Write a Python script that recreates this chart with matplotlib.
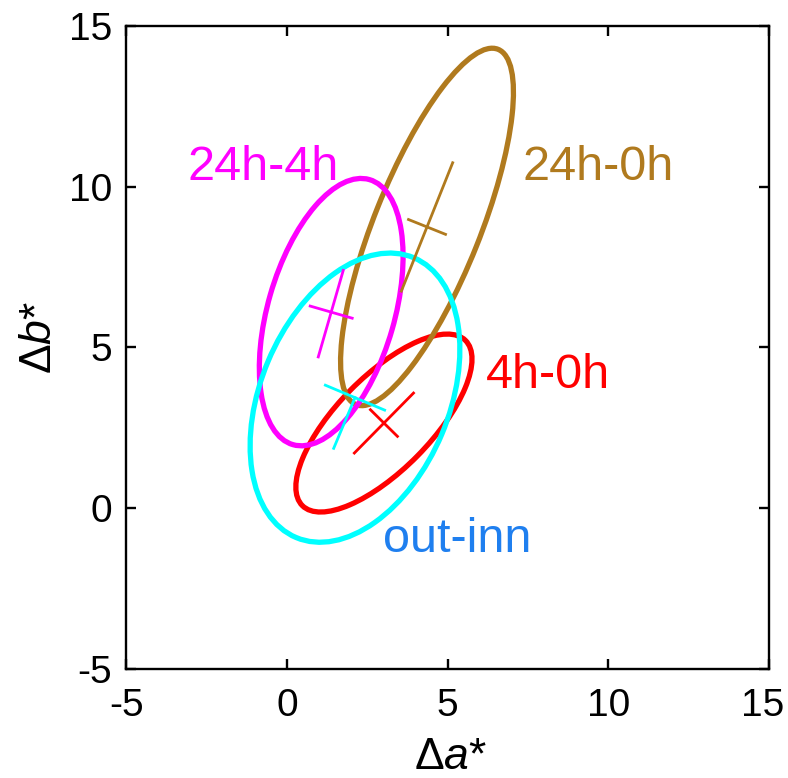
import numpy as np
import matplotlib
matplotlib.use('Agg')
import matplotlib.pyplot as plt
import matplotlib.transforms as mtransforms
from matplotlib.patches import Ellipse

plt.rcParams['font.family'] = ['Liberation Sans', 'DejaVu Sans']
plt.rcParams['mathtext.fontset'] = 'custom'
plt.rcParams['mathtext.rm'] = 'Liberation Sans'
plt.rcParams['mathtext.it'] = 'Liberation Sans:italic'
plt.rcParams['axes.unicode_minus'] = False

# groups, drawn in this order
names = ['4h-0h', '24h-0h', '24h-4h', 'out-inn']
colors = ['#ff0000', '#b07a1e', '#ff00ff', '#00ffff']
text_colors = ['#ff0000', '#b07a1e', '#ff00ff', '#1f7fef']

# ellipse centre (da, db), semi-axes and tilt (deg)
center_a = [3.02, 4.36, 1.38, 2.12]
center_b = [2.65, 8.75, 6.10, 3.44]
semi_major = [3.61, 5.95, 4.29, 4.72]
semi_minor = [1.46, 1.65, 1.97, 2.93]
tilt = [45.4, 68.2, 73.9, 67.2]

# cross arms (major axis down/up, minor axis left/right)
major_lo = [1.31, 2.15, 1.45, 1.71]
major_hi = [1.31, 2.15, 1.35, 0.0]
minor_lo = [0.59, 0.62, 0.68, 1.0]
minor_hi = [0.59, 0.62, 0.68, 1.0]

# label anchors (left, baseline)
label_a = [6.20, 7.32, -3.10, 2.99]
label_b = [3.74, 10.21, 10.21, -1.36]

fig = plt.figure(figsize=(7.88, 7.78), dpi=100)
ax = fig.add_axes([0.160, 0.1401, 0.816, 0.8265])

for i in range(len(names)):
    ell = Ellipse((center_a[i], center_b[i]), 2 * semi_major[i], 2 * semi_minor[i],
                  angle=tilt[i], fill=False, edgecolor=colors[i], linewidth=3.8)
    ax.add_patch(ell)
    t = np.deg2rad(tilt[i])
    ux, uy = np.cos(t), np.sin(t)
    vx, vy = -np.sin(t), np.cos(t)
    ax.plot([center_a[i] - major_lo[i] * ux, center_a[i] + major_hi[i] * ux],
            [center_b[i] - major_lo[i] * uy, center_b[i] + major_hi[i] * uy],
            color=colors[i], linewidth=2.0)
    ax.plot([center_a[i] - minor_lo[i] * vx, center_a[i] + minor_hi[i] * vx],
            [center_b[i] - minor_lo[i] * vy, center_b[i] + minor_hi[i] * vy],
            color=colors[i], linewidth=2.0)
    ax.text(label_a[i], label_b[i], names[i], color=text_colors[i], fontsize=35,
            ha='left', va='baseline')

ax.set_xlim(-5, 15)
ax.set_ylim(-5, 15)
ticks = [-5, 0, 5, 10, 15]
ax.set_xticks(ticks)
ax.set_yticks(ticks)
ax.tick_params(direction='in', length=7, width=1.7, labelsize=28,
               top=True, right=True, pad=10)
ax.tick_params(axis='x', pad=14)
for sp in ax.spines.values():
    sp.set_linewidth(1.7)

# last x label sits at the figure edge, nudge it in a bit
last = ax.get_xticklabels()[-1]
last.set_transform(last.get_transform() +
                   mtransforms.ScaledTranslation(-5 / 72, 0, fig.dpi_scale_trans))

ax.set_xlabel('Δ$\\mathit{a}$*', fontsize=32)
ax.set_ylabel('Δ$\\mathit{b}$*', fontsize=32)
ax.xaxis.set_label_coords(0.504, -0.106)
ax.yaxis.set_label_coords(-0.102, 0.515)

plt.savefig('out.png', dpi=100)
